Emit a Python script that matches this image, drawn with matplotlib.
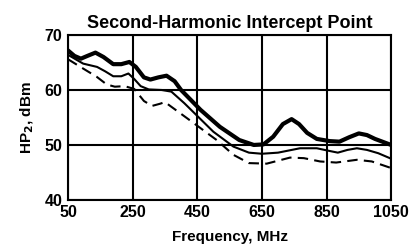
import matplotlib.pyplot as plt

plt.rcParams['font.family'] = ['Liberation Sans', 'DejaVu Sans']
plt.rcParams['font.weight'] = 'bold'

# values
freq_a = [50, 70, 90, 110, 135, 160, 190, 215, 240, 260, 285, 305, 330, 355, 380, 400,
          460, 520, 580, 625, 655, 685, 715, 742, 765, 790, 820, 860, 890, 920, 950, 975, 1000, 1050]
hp2_a = [67.2, 66.2, 65.7, 66.2, 66.8, 66.0, 64.7, 64.7, 65.1, 64.2, 62.3, 61.9, 62.3, 62.6, 61.6, 60.0,
         56.4, 53.3, 50.9, 50.0, 50.1, 51.5, 53.8, 54.7, 53.8, 52.2, 51.1, 50.7, 50.6, 51.4, 52.1, 51.8, 51.1, 50.0]

freq_b = [50, 97, 140, 165, 190, 215, 237, 255, 275, 300, 340, 370, 410, 500, 562, 610,
          650, 700, 768, 820, 860, 885, 915, 944, 975, 1010, 1050]
hp2_b = [66.4, 64.8, 64.2, 63.4, 62.5, 62.5, 63.0, 62.0, 60.7, 60.1, 60.0, 59.7, 57.6, 52.4, 49.7, 48.6,
         48.4, 48.6, 49.4, 49.4, 48.9, 48.6, 49.1, 49.4, 49.1, 48.5, 47.5]

freq_c = [50, 97, 139, 170, 195, 225, 255, 285, 310, 335, 350, 420, 510, 562, 610,
          665, 737, 780, 830, 880, 944, 990, 1050]
hp2_c = [65.6, 63.9, 62.4, 61.0, 60.6, 60.7, 60.2, 58.0, 57.1, 57.5, 57.8, 54.8, 50.9, 48.2, 46.7,
         46.6, 47.7, 47.6, 47.0, 46.8, 47.3, 47.0, 45.8]

xticks = [50, 250, 450, 650, 850, 1050]
yticks = [40, 50, 60, 70]

fig = plt.figure(figsize=(4.17, 2.45), dpi=100)
ax = fig.add_axes([0.163, 0.184, 0.775, 0.673])

ax.plot(freq_a, hp2_a, color='black', lw=3.0, solid_joinstyle='round', solid_capstyle='round')
ax.plot(freq_b, hp2_b, color='black', lw=1.5, solid_joinstyle='round')
ax.plot(freq_c, hp2_c, color='black', lw=1.5, dashes=(5, 3))

ax.set_xlim(50, 1050)
ax.set_ylim(40, 70)
ax.set_xticks(xticks)
ax.set_yticks(yticks)
ax.grid(True, color='black', lw=1.5)
ax.tick_params(length=0, labelsize=11.5, pad=4)
for s in ax.spines.values():
    s.set_linewidth(1.5)

ax.set_title('Second-Harmonic Intercept Point', fontsize=13, fontweight='bold', pad=5)
ax.set_xlabel('Frequency, MHz', fontsize=11, fontweight='bold', labelpad=7)
ax.set_ylabel('HP$_\\mathbf{2}$, dBm', fontsize=11, fontweight='bold', labelpad=6)

fig.savefig('out.png', dpi=100)
